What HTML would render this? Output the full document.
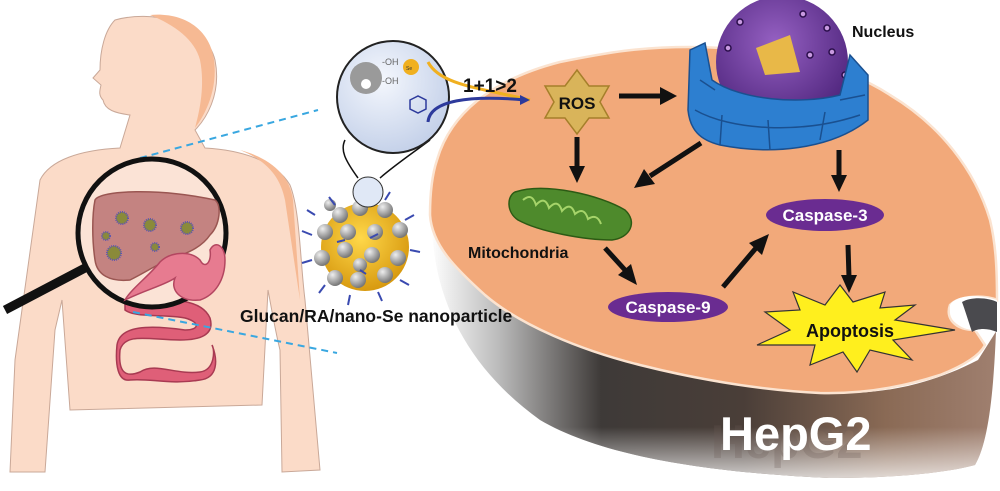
<!DOCTYPE html>
<html><head><meta charset="utf-8"><style>
html,body{margin:0;padding:0;background:#fff;}
svg{display:block;font-family:"Liberation Sans",sans-serif;}
</style></head><body>
<svg width="1000" height="491" viewBox="0 0 1000 491">
<defs>
<radialGradient id="zoomG" cx="0.4" cy="0.35" r="0.7"><stop offset="0" stop-color="#f4f7fd"/><stop offset="1" stop-color="#c2cfe8"/></radialGradient>
<radialGradient id="ballG" cx="0.35" cy="0.3" r="0.7"><stop offset="0" stop-color="#eee"/><stop offset="1" stop-color="#777"/></radialGradient>
<radialGradient id="goldG" cx="0.45" cy="0.4" r="0.6"><stop offset="0" stop-color="#ffd84a"/><stop offset="1" stop-color="#d89a10"/></radialGradient>
<radialGradient id="purpleG" cx="0.45" cy="0.35" r="0.7"><stop offset="0" stop-color="#9560c2"/><stop offset="1" stop-color="#4a2178"/></radialGradient>
<linearGradient id="wallG" x1="430" y1="0" x2="1000" y2="0" gradientUnits="userSpaceOnUse"><stop offset="0" stop-color="#ffffff"/><stop offset="0.12" stop-color="#bbbbbb"/><stop offset="0.3" stop-color="#3e3a38"/><stop offset="0.55" stop-color="#4a3e38"/><stop offset="0.8" stop-color="#8a6a55"/><stop offset="1" stop-color="#a08070"/></linearGradient>
<linearGradient id="wallV" x1="0" y1="340" x2="0" y2="485" gradientUnits="userSpaceOnUse"><stop offset="0.6" stop-color="#fff" stop-opacity="0"/><stop offset="1" stop-color="#fff" stop-opacity="0.85"/></linearGradient>
</defs>

<!-- human body -->
<g>
<path d="M115,20 C150,10 205,20 215,60 C222,95 205,120 195,130 L205,148 C240,150 275,160 290,185 C300,210 300,260 305,300 L320,470 L282,472 L280,350 C275,330 270,300 268,290 L262,405 L70,410 L62,300 L55,330 L45,472 L10,472 L15,360 C25,290 35,220 40,180 C50,160 80,150 120,148 L130,115 C115,113 105,110 103,100 C98,95 100,90 101,85 L93,78 L100,70 C100,50 105,30 115,20 Z" fill="#fbdbc8" stroke="#c9a898" stroke-width="1"/>
<path d="M150,15 C185,12 210,30 214,60 C218,90 205,115 195,128 C200,110 205,85 200,60 C195,40 175,25 150,15 Z" fill="#f6b993"/>
<path d="M240,150 C270,158 290,175 293,200 L300,300 L285,200 C280,175 265,160 240,150 Z" fill="#f6b993"/>
</g>

<line x1="140" y1="158" x2="318" y2="110" stroke="#39a7e0" stroke-width="2" stroke-dasharray="7,5"/>

<!-- intestine -->
<path d="M125,300 C160,300 200,295 210,318 C215,335 200,340 180,340 C150,340 125,332 120,350 C118,372 125,378 140,372 C155,362 175,375 200,372 C215,370 215,350 212,345 C218,360 218,378 200,380 C170,385 150,378 130,380 C118,382 115,365 117,345 C120,325 150,325 185,330 C200,330 200,322 185,318 C165,314 135,318 125,310 Z" fill="#df5f78" stroke="#a83a52" stroke-width="1.5"/>
<line x1="133" y1="312" x2="337" y2="353" stroke="#39a7e0" stroke-width="2" stroke-dasharray="7,5"/>

<!-- magnifier -->
<g>
<line x1="5" y1="310" x2="85" y2="268" stroke="#111" stroke-width="9"/>
<circle cx="152" cy="233" r="74" fill="#fbe3d6" stroke="#111" stroke-width="5"/>
<path d="M95,200 C100,190 160,188 215,200 C222,205 220,225 210,235 C200,250 180,255 175,258 C160,262 150,270 130,280 C110,282 97,275 95,260 C92,240 92,215 95,200 Z" fill="#c48381" stroke="#9a5652" stroke-width="1.5"/>
<path d="M160,262 C170,252 190,250 200,260 C205,270 212,262 210,250 C215,240 225,245 225,260 C225,280 215,295 200,300 C180,302 170,290 175,278 C165,285 145,290 125,300 C130,290 150,275 160,262 Z" fill="#e77b90" stroke="#b34660" stroke-width="1.5"/>
<g fill="#8a8a3a" stroke="#5a55b0" stroke-width="2" stroke-dasharray="1,1">
<circle cx="122" cy="218" r="6"/><circle cx="150" cy="225" r="6"/><circle cx="187" cy="228" r="6"/><circle cx="106" cy="236" r="4"/><circle cx="114" cy="253" r="7"/><circle cx="155" cy="247" r="4"/>
</g>
</g>

<!-- cell -->
<g>
<path d="M432,220 C432,300 470,370 540,420 C600,455 700,472 829,478 C900,478 950,472 975,465 C990,440 995,380 997,300 L997,330 L978,360 C930,385 880,395 830,393 C760,390 700,380 640,365 C580,350 520,320 480,290 C450,265 436,245 432,220 Z" fill="url(#wallG)"/>
<path d="M432,220 C432,300 470,370 540,420 C600,455 700,472 829,478 C900,478 950,472 975,465 C990,440 995,380 997,300 L997,330 L978,360 C930,385 880,395 830,393 C760,390 700,380 640,365 C580,350 520,320 480,290 C450,265 436,245 432,220 Z" fill="url(#wallV)"/>
<path d="M437,160 C450,115 490,80 560,62 C610,52 640,47 690,47 C760,47 840,62 890,95 C940,125 975,170 990,220 C996,245 997,270 997,300 C985,295 960,295 950,305 C945,318 955,330 975,330 L985,345 C980,355 965,365 940,375 C900,388 860,394 820,393 C760,390 700,380 640,365 C580,350 520,325 485,295 C455,268 432,245 430,215 C430,195 432,175 437,160 Z" fill="#f2a97a" stroke="#fbe3d0" stroke-width="2.5"/>
<path d="M950,305 C955,296 975,293 997,300 L997,332 C985,330 975,333 975,330 C960,330 948,320 950,305 Z" fill="#fff"/>
<path d="M962,302 C972,296 990,298 997,302 L997,332 C988,328 978,328 972,332 C968,320 965,310 962,302 Z" fill="#4a4a4e"/>
</g>
<text x="711" y="458" font-size="47" font-weight="bold" fill="#6a5a55" opacity="0.25">HepG2</text>
<text x="720" y="450" font-size="47" font-weight="bold" fill="#fff">HepG2</text>

<!-- nanoparticle -->
<g>
<path d="M358,178 C345,160 340,150 345,140 M380,178 C395,165 410,155 430,140" stroke="#111" stroke-width="1.5" fill="none"/>
<circle cx="365" cy="247" r="44" fill="url(#goldG)"/>
<g fill="url(#ballG)">
<circle cx="340" cy="215" r="8"/><circle cx="360" cy="208" r="8"/><circle cx="385" cy="210" r="8"/><circle cx="400" cy="230" r="8"/>
<circle cx="325" cy="232" r="8"/><circle cx="348" cy="232" r="8"/><circle cx="375" cy="232" r="8"/><circle cx="398" cy="258" r="8"/>
<circle cx="322" cy="258" r="8"/><circle cx="345" cy="250" r="8"/><circle cx="372" cy="255" r="8"/><circle cx="385" cy="275" r="8"/>
<circle cx="335" cy="278" r="8"/><circle cx="358" cy="280" r="8"/><circle cx="360" cy="265" r="7"/><circle cx="330" cy="205" r="6"/>
</g>
<circle cx="368" cy="192" r="15" fill="#e0e8f6" stroke="#333" stroke-width="1"/>
<g stroke="#3a4ab0" stroke-width="2" fill="none">
<path d="M312,235 l-10,-4 M312,260 l-10,3 M325,285 l-6,8 M350,295 l-2,10 M378,292 l4,9 M400,280 l9,5 M410,250 l10,2 M405,220 l9,-5 M335,205 l-6,-8 M385,200 l5,-8 M315,215 l-8,-5 M370,238 l8,-4 M345,240 l-8,2 M360,270 l6,4"/>
</g>
</g>
<text x="240" y="322" font-size="17.5" font-weight="bold" fill="#111">Glucan/RA/nano-Se nanoparticle</text>

<!-- zoom circle -->
<g>
<circle cx="393" cy="97" r="56" fill="url(#zoomG)" stroke="#222" stroke-width="2"/>
<circle cx="366" cy="78" r="16" fill="#9a9a9a"/><circle cx="366" cy="84" r="5" fill="#fff"/>
<text x="382" y="65" font-size="9" fill="#666">-OH</text><text x="382" y="84" font-size="9" fill="#666">-OH</text>
<circle cx="411" cy="67" r="8" fill="#f0b020"/><text x="406" y="70" font-size="5" fill="#333">Se</text>
<path d="M410,100 l8,-4 l8,4 l0,9 l-8,4 l-8,-4 Z" fill="none" stroke="#2d3a9c" stroke-width="1.5"/>
<path d="M428,62 C440,85 480,88 530,100" stroke="#f0b020" stroke-width="3" fill="none"/>
<path d="M428,122 C430,100 470,95 525,100" stroke="#2d3a9c" stroke-width="3" fill="none"/>
<path d="M520,95 l10,5 l-10,5 Z" fill="#2d3a9c"/>
</g>
<text x="463" y="92" font-size="19" font-weight="bold" fill="#111">1+1&gt;2</text>

<!-- ROS star -->
<g>
<path d="M577,70 L589,86 L609,86 L600,102 L609,118 L589,118 L577,134 L565,118 L545,118 L554,102 L545,86 L565,86 Z" fill="#d9b45a" stroke="#a67f2a" stroke-width="1.5"/>
<text x="577" y="109" font-size="17" font-weight="bold" fill="#111" text-anchor="middle">ROS</text>
</g>

<!-- nucleus -->
<g>
<circle cx="782" cy="62" r="66" fill="url(#purpleG)"/>
<path d="M756,48 L790,35 L800,72 L765,75 Z" fill="#e8b848"/>
<g fill="#c89ae0" stroke="#2a0e4a" stroke-width="1.5"><circle cx="803" cy="14" r="3"/><circle cx="827" cy="28" r="3"/><circle cx="832" cy="52" r="3"/><circle cx="845" cy="75" r="3"/><circle cx="740" cy="22" r="3"/><circle cx="728" cy="48" r="3"/><circle cx="810" cy="55" r="3"/></g>
<path d="M690,50 L705,43 L712,80 C740,100 800,105 840,95 L850,55 L868,75 L868,120 C830,150 770,155 720,145 C700,140 690,130 688,110 Z" fill="#2d7fd0" stroke="#1a5090" stroke-width="1.5"/>
<g stroke="#1a5090" stroke-width="1.5" fill="none"><path d="M695,110 C730,130 800,135 860,115 M720,145 L722,115 M770,150 L768,120 M820,140 L825,112 M700,80 L715,90 M840,100 L865,95"/></g>
</g>
<text x="852" y="37" font-size="16" font-weight="bold" fill="#111">Nucleus</text>

<!-- mitochondria -->
<g>
<path d="M515,192 C545,182 600,195 625,210 C638,222 630,238 612,240 C585,240 540,232 518,220 C506,212 507,196 515,192 Z" fill="#4e8a2c" stroke="#2c5a14" stroke-width="1.5"/>
<path d="M523,200 q9,-8 13,5 q9,-10 13,3 q9,-10 13,3 q9,-10 13,3 q9,-8 13,5 q9,-6 13,5" stroke="#a6d46a" stroke-width="2" fill="none"/>
</g>
<text x="468" y="258" font-size="16" font-weight="bold" fill="#111">Mitochondria</text>

<!-- caspases -->
<g>
<ellipse cx="825" cy="215" rx="59" ry="16" fill="#6a2c91"/>
<text x="825" y="221" font-size="17" font-weight="bold" fill="#fff" text-anchor="middle">Caspase-3</text>
</g>
<g>
<ellipse cx="668" cy="307" rx="60" ry="15" fill="#6a2c91"/>
<text x="668" y="313" font-size="17" font-weight="bold" fill="#fff" text-anchor="middle">Caspase-9</text>
</g>

<!-- apoptosis burst -->
<g>
<path d="M765,312 L800,310 L793,292 L825,305 L840,285 L853,302 L885,292 L880,308 L915,305 L895,320 L955,330 L893,340 L912,360 L870,350 L857,372 L843,352 L810,365 L815,345 L757,345 L790,330 Z" fill="#ffef1e" stroke="#333" stroke-width="1.2"/>
<text x="850" y="337" font-size="18" font-weight="bold" fill="#111" text-anchor="middle">Apoptosis</text>
</g>

<!-- arrows -->
<g stroke="#111" stroke-width="5" fill="#111">
<line x1="619" y1="96" x2="660" y2="96"/><path d="M660,87 L677,96 L660,105 Z" stroke="none"/>
<line x1="577" y1="137" x2="577" y2="168"/><path d="M569,166 L577,183 L585,166 Z" stroke="none"/>
<line x1="701" y1="143" x2="650" y2="176"/><path d="M644,169 L634,188 L655,184 Z" stroke="none"/>
<line x1="839" y1="150" x2="839" y2="177"/><path d="M831,175 L839,192 L847,175 Z" stroke="none"/>
<line x1="605" y1="248" x2="625" y2="270"/><path d="M618,275 L637,285 L631,264 Z" stroke="none"/>
<line x1="723" y1="287" x2="756" y2="248"/><path d="M749,243 L769,234 L762,255 Z" stroke="none"/>
<line x1="848" y1="245" x2="849" y2="277"/><path d="M841,275 L849,293 L857,275 Z" stroke="none"/>
</g>
</svg>
</body></html>
